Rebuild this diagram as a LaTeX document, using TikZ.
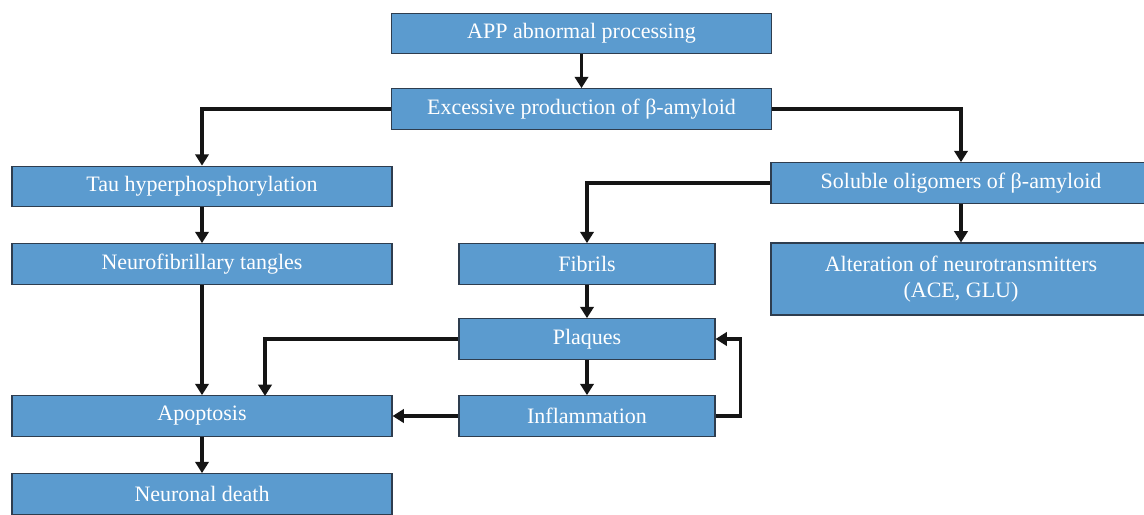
\documentclass[tikz,border=0pt]{standalone}
\usepackage{fontspec}
\setmainfont{Liberation Serif}
\usetikzlibrary{arrows.meta}
\definecolor{boxfill}{HTML}{5B9BCF}
\definecolor{boxline}{HTML}{2E3D4F}
\definecolor{arrowc}{HTML}{151515}
\tikzset{
  box/.style={draw=boxline, line width=0.8pt, fill=boxfill, text=white, inner sep=0pt,
    font=\fontsize{16.5}{19.5}\selectfont, align=center},
  arr/.style={draw=arrowc, line width=2.6pt, -{Triangle[width=10pt,length=8.5pt]}},
  wn/.style={minimum width=285pt},
  nn/.style={minimum width=192pt},
  hh/.style={minimum height=30.5pt}
}
\begin{document}
\begin{tikzpicture}[x=0.75pt,y=-0.75pt]
\useasboundingbox (0,0) rectangle (1144,514);
\node[box,wn,hh] (app) at (581.5,33.5) {APP abnormal processing};
\node[box,wn,hh] (exc) at (581.5,109) {Excessive production of β-amyloid};
\node[box,wn,hh] (tau) at (202,186.5) {Tau hyperphosphorylation};
\node[box,wn,hh] (sol) at (961,183) {Soluble oligomers of β-amyloid};
\node[box,wn,minimum height=54pt] (alt) at (961,279) {Alteration of neurotransmitters\\(ACE, GLU)};
\node[box,wn,hh] (neu) at (202,264) {Neurofibrillary tangles};
\node[box,nn,hh] (fib) at (587,264) {Fibrils};
\node[box,nn,hh] (pla) at (587,339) {Plaques};
\node[box,nn,hh] (inf) at (587,416) {Inflammation};
\node[box,wn,hh] (apo) at (202,416) {Apoptosis};
\node[box,wn,hh] (dea) at (202,494) {Neuronal death};
\coordinate (pa) at (265,396);
\draw[arr] (app) -- (exc);
\draw[arr] (exc.west) -| (tau.north);
\draw[arr] (exc.east) -| (sol.north);
\draw[arr] (sol.west) -| (fib.north);
\draw[arr] (sol) -- (alt);
\draw[arr] (tau) -- (neu);
\draw[arr] (neu) -- (apo);
\draw[arr] (fib) -- (pla);
\draw[arr] (pla.west) -| (pa);
\draw[arr] (pla) -- (inf);
\draw[arr] (inf.west) -- (apo.east);
\draw[arr] (inf.east) -- ++(25,0) |- (pla.east);
\draw[arr] (apo) -- (dea);
\end{tikzpicture}
\end{document}
